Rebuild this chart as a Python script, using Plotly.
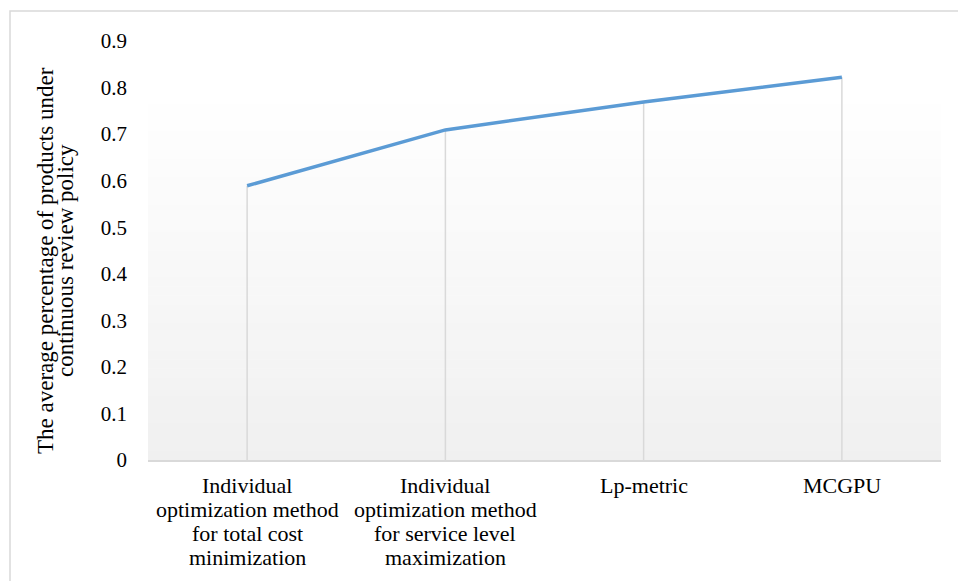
import plotly.graph_objects as go

categories = [
    "Individual<br>optimization method<br>for total cost<br>minimization",
    "Individual<br>optimization method<br>for service level<br>maximization",
    "Lp-metric",
    "MCGPU",
]
values = [0.589, 0.709, 0.769, 0.822]
y_title_lines = ["The average percentage of products under", "continuous review policy"]
y_ticks = [0, 0.1, 0.2, 0.3, 0.4, 0.5, 0.6, 0.7, 0.8, 0.9]
y_ticktext = ["0", "0.1", "0.2", "0.3", "0.4", "0.5", "0.6", "0.7", "0.8", "0.9"]

FONT = "Liberation Serif"
W, H = 958, 581
L, R, T, B = 148, 17, 41, 121
pw, ph = W - L - R, H - T - B

xs = list(range(len(categories)))

fig = go.Figure()

# drop lines from points to axis
dx, dy = [], []
for i, v in zip(xs, values):
    dx += [i, i, None]
    dy += [0, v, None]
fig.add_trace(go.Scatter(x=dx, y=dy, mode="lines",
                         line=dict(color="#d9d9d9", width=1.5),
                         hoverinfo="skip", showlegend=False))

fig.add_trace(go.Scatter(x=xs, y=values, mode="lines",
                         line=dict(color="#5b9bd5", width=3.5),
                         showlegend=False))

shapes = []
# gradient background of inner plot area
n = 40
top = (460 - 95) / ph
for k in range(n):
    t0 = k / n
    t1 = (k + 1) / n
    frac = 1 - (t0 + t1) / 2  # 0 at top -> 1 at bottom
    c = int(round(255 - frac * (255 - 240)))
    shapes.append(dict(type="rect", xref="paper", yref="paper",
                       x0=0, x1=1, y0=top * t0, y1=top * t1 + 0.001,
                       fillcolor=f"rgb({c},{c},{c})", line=dict(width=0),
                       layer="below"))
# outer chart border
shapes.append(dict(type="rect", xref="paper", yref="paper",
                   x0=(10 - L) / pw, x1=1.2, y0=-0.5, y1=(H - B - 11) / ph,
                   line=dict(color="#d9d9d9", width=1.5),
                   fillcolor="rgba(0,0,0,0)", layer="below"))

annotations = []
for line_txt, xc in zip(y_title_lines, [45, 65]):
    annotations.append(dict(text=line_txt, xref="paper", yref="paper",
                            x=(xc - L) / pw, y=(H - B - 261) / ph,
                            showarrow=False, textangle=-90,
                            xanchor="center", yanchor="middle",
                            font=dict(family=FONT, size=23, color="#000000")))

# category labels, one annotation per line for Excel-like line spacing
for i, cat in zip(xs, categories):
    for j, part in enumerate(cat.split("<br>")):
        ypx = 485 + 24 * j
        annotations.append(dict(text=part, xref="x", yref="paper",
                                x=i, y=(H - B - ypx) / ph,
                                showarrow=False, xanchor="center",
                                yanchor="middle",
                                font=dict(family=FONT, size=22, color="#000000")))

fig.update_layout(
    width=W, height=H,
    margin=dict(l=L, r=R, t=T, b=B, pad=0),
    paper_bgcolor="white", plot_bgcolor="rgba(0,0,0,0)",
    font=dict(family=FONT, size=21, color="#000000"),
    shapes=shapes, annotations=annotations,
    xaxis=dict(range=[-0.5, 3.5], tickvals=xs, showticklabels=False,
               showgrid=False, zeroline=False, showline=True,
               linecolor="#d9d9d9", linewidth=2, ticks=""),
    yaxis=dict(range=[0, 0.9], tickvals=y_ticks, ticktext=y_ticktext,
               showgrid=False, zeroline=False, showline=False, ticks="",
               ticklabelstandoff=20,
               tickfont=dict(family=FONT, size=21, color="#000000")),
)

fig.write_html("out.html")
